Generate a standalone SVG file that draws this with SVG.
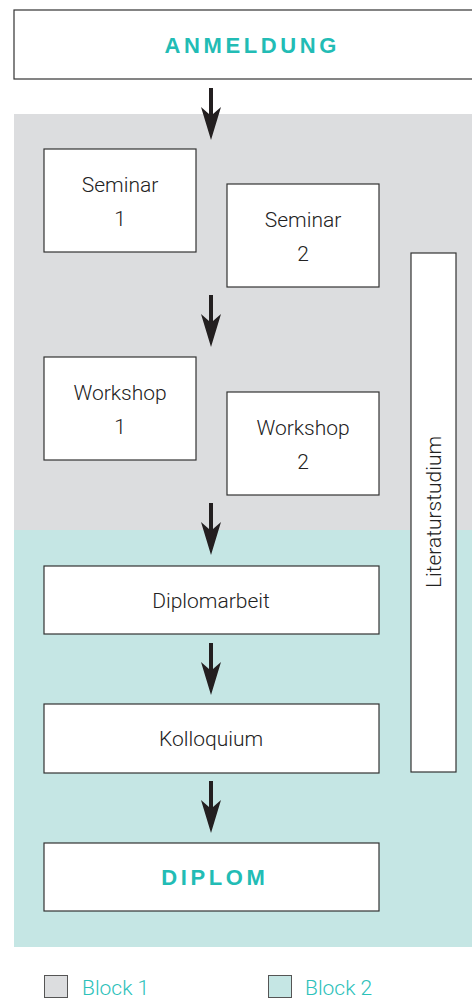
<svg xmlns="http://www.w3.org/2000/svg" width="472" height="999" viewBox="0 0 472 999">
<style>
.box{fill:#fff;stroke:#333;stroke-width:1.2}
.t{font-family:Roboto,"Liberation Sans",Arial,sans-serif;font-weight:300;font-size:21px;fill:#222;text-anchor:middle}
.h{font-family:"Liberation Sans",Arial,sans-serif;font-size:22px;font-weight:bold;fill:#22bcb5;text-anchor:middle;letter-spacing:3.6px}
.lg{font-family:Roboto,"Liberation Sans",Arial,sans-serif;font-weight:300;font-size:21px;fill:#2cc1ba}
.arr{fill:#231f20}
</style>
<defs>
<path id="arrow" class="arr" d="M-2,0 H2 V26 L10,19 L0,52 L-10,19 L-2,26 Z"/>
</defs>
<rect x="0" y="0" width="472" height="999" fill="#fff"/>
<rect x="14" y="114" width="458" height="416" fill="#dcdddf"/>
<rect x="14" y="530" width="458" height="417" fill="#c5e6e4"/>
<g id="anmeldung"><rect class="box" x="14" y="10" width="470" height="69"/><text class="h" x="252.3" y="53">ANMELDUNG</text></g>
<g id="seminar1"><rect class="box" x="44" y="149" width="152" height="103"/><text class="t" x="120" y="192">Seminar</text><text class="t" x="120" y="226">1</text></g>
<g id="seminar2"><rect class="box" x="227" y="184" width="152" height="103"/><text class="t" x="303" y="227">Seminar</text><text class="t" x="303" y="261">2</text></g>
<g id="workshop1"><rect class="box" x="44" y="357" width="152" height="103"/><text class="t" x="120" y="400">Workshop</text><text class="t" x="120" y="434">1</text></g>
<g id="workshop2"><rect class="box" x="227" y="392" width="152" height="103"/><text class="t" x="303" y="435">Workshop</text><text class="t" x="303" y="469">2</text></g>
<g id="diplomarbeit"><rect class="box" x="44" y="566" width="335" height="68"/><text class="t" x="211" y="608">Diplomarbeit</text></g>
<g id="kolloquium"><rect class="box" x="44" y="704" width="335" height="69"/><text class="t" x="211" y="746">Kolloquium</text></g>
<g id="diplom"><rect class="box" x="44" y="843" width="335" height="68"/><text class="h" x="214.8" y="885">DIPLOM</text></g>
<g id="literaturstudium"><rect class="box" x="411" y="253" width="45" height="519"/><text class="t" transform="translate(441,512) rotate(-90)">Literaturstudium</text></g>
<g id="connectors">
<use href="#arrow" x="211" y="88"/>
<use href="#arrow" x="211" y="295"/>
<use href="#arrow" x="211" y="503"/>
<use href="#arrow" x="211" y="643"/>
<use href="#arrow" x="211" y="781"/>
</g>
<g id="legend">
<rect x="44.5" y="975.5" width="23" height="22" fill="#dcdddf" stroke="#555" stroke-width="1"/>
<text class="lg" x="82" y="995">Block 1</text>
<rect x="268.5" y="975.5" width="23" height="22" fill="#c5e6e4" stroke="#555" stroke-width="1"/>
<text class="lg" x="305" y="995">Block 2</text>
</g>
</svg>
